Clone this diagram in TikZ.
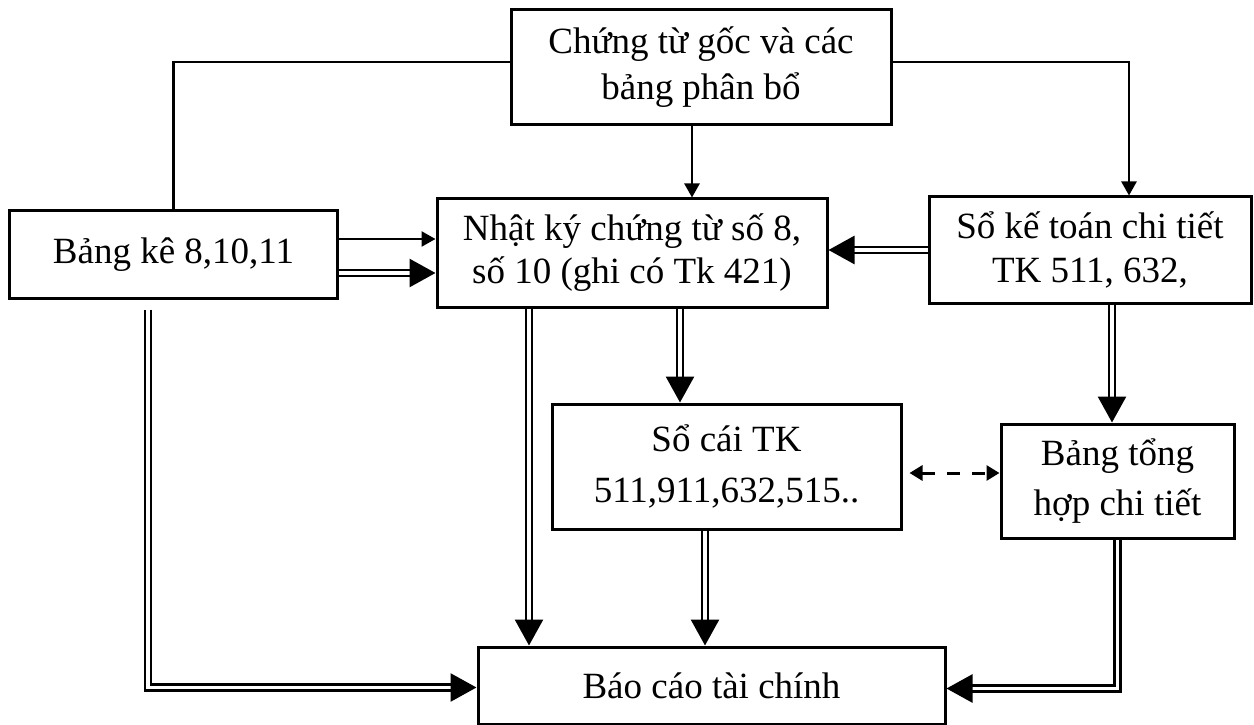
\documentclass[tikz,border=0pt]{standalone}
\usepackage{fontspec}
\setmainfont{Liberation Serif}
\usetikzlibrary{arrows.meta}
\begin{document}
\begin{tikzpicture}[x=1bp,y=-1bp,
  box/.style={draw, line width=3bp, inner sep=0pt, align=center,
    font=\fontsize{37bp}{#1}\selectfont},
  box/.default=44bp,
  link/.style={line width=2.5bp},
  linkarrow/.style={link, -{Triangle[length=14bp,width=15bp]}},
  dbl/.style={double, line width=2.7bp, double distance=3.3bp,
    -{Triangle[length=26bp,width=28bp]}},
  dashlink/.style={line width=3bp, dash pattern=on 13bp off 12bp,
    {Triangle[length=13bp,width=15bp]}-{Triangle[length=13bp,width=15bp]}},
]
\useasboundingbox (0,0) rectangle (1254,725);

% boxes
\node[box=46bp, minimum width=380bp, minimum height=115bp] (src) at (701,67.5)
  {Chứng từ gốc và các\\bảng phân bổ};
\node[box, minimum width=327bp, minimum height=87bp] (bk) at (173.5,254.5)
  {Bảng kê 8,10,11};
\node[box=43bp, minimum width=390bp, minimum height=108bp] (nk) at (632,253)
  {Nhật ký chứng từ số 8,\\số 10 (ghi có Tk 421)};
\node[box=44bp, minimum width=322bp, minimum height=106bp] (skt) at (1090,250)
  {Sổ kế toán chi tiết\\TK 511, 632,};
\node[box=51bp, minimum width=349bp, minimum height=125bp] (sc) at (726.5,466.5)
  {Sổ cái TK\\511,911,632,515..};
\node[box=50bp, minimum width=233bp, minimum height=114bp] (bth) at (1117.5,481)
  {Bảng tổng\\hợp chi tiết};
\node[box, minimum width=467bp, minimum height=77bp] (bc) at (711.5,685.5)
  {Báo cáo tài chính};

% single-line links from the source documents
\draw[link] (bk.north) |- ([yshift=5.5bp]src.west);
\draw[linkarrow] ([yshift=5.5bp]src.east) -| ([xshift=39bp]skt.north);
\draw[linkarrow] ([xshift=-9bp]src.south) -- ([xshift=-9bp]src.south |- nk.north);
\draw[linkarrow] ([yshift=15.5bp]bk.east) -- ([yshift=15.5bp]bk.east -| nk.west);

% double-line links
\draw[dbl] ([yshift=-18.5bp]bk.east) -- ([yshift=-18.5bp]bk.east -| nk.west);
\draw[dbl] (skt.west) -- (skt.west -| nk.east);
\draw[dbl] ([xshift=48bp]nk.south) -- ([xshift=48bp]nk.south |- sc.north);
\draw[dbl] ([xshift=-103bp]nk.south) -- ([xshift=-103bp]nk.south |- bc.north);
\draw[dbl] ([xshift=-21.5bp]sc.south) -- ([xshift=-21.5bp]sc.south |- bc.north);
\draw[dbl] ([xshift=-25.5bp,yshift=-10bp]bk.south) |- ([yshift=-2bp]bc.west);
\draw[dbl] ([xshift=22bp]skt.south) -- ([xshift=22bp]skt.south |- bth.north);
\draw[dbl] (bth.south) |- ([yshift=-3bp]bc.east);

% two-way dashed link between the ledgers
\draw[dashlink] ([xshift=7bp,yshift=-6.5bp]sc.east) -- ([yshift=-6.5bp]sc.east -| bth.west);
\end{tikzpicture}
\end{document}
